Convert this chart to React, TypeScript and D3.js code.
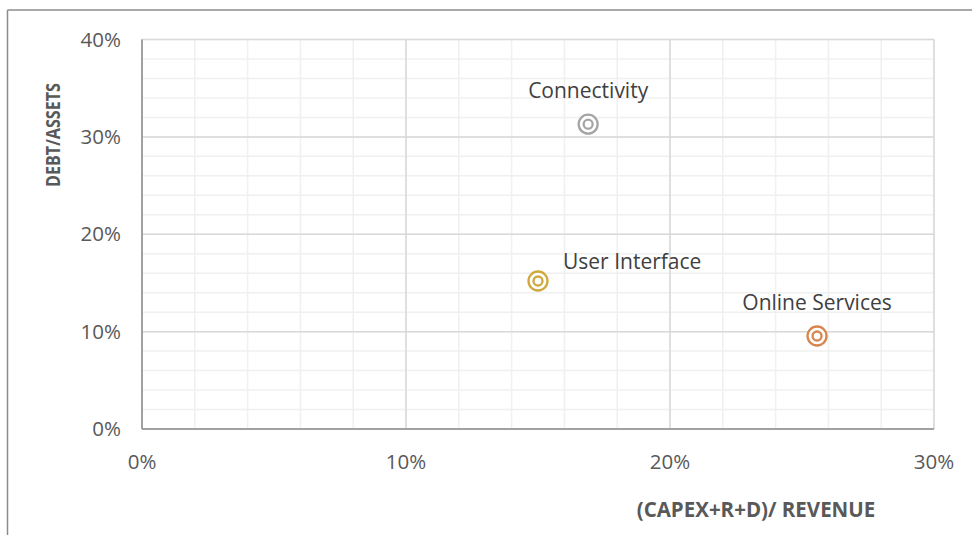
import React from "react";
import * as d3 from "d3";

const names = ["Connectivity", "User Interface", "Online Services"];
const capexRatio = [0.169, 0.150, 0.2557];
const debtRatio = [0.313, 0.152, 0.0955];
const colors = ["#a5a5a5", "#cfa93c", "#d8844c"];
const labelPos = ["top", "right", "top"];

const xMajor = [0, 0.1, 0.2, 0.3];
const yMajor = [0, 0.1, 0.2, 0.3, 0.4];

const W = 972;
const H = 535;
const margin = { top: 39.5, right: 38, bottom: 106, left: 142 };
const FONT = "'Open Sans', sans-serif";

const App: React.FC = () => {
  const x = d3.scaleLinear().domain([0, 0.3]).range([margin.left, W - margin.right]);
  const y = d3.scaleLinear().domain([0, 0.4]).range([H - margin.bottom, margin.top]);
  const fmt = d3.format(".0%");

  const xMinor = d3.range(0, 0.3001, 0.02);
  const yMinor = d3.range(0, 0.4001, 0.02);

  return (
    <div style={{ position: "fixed", left: 0, top: 0 }}>
      <svg width={W} height={H} style={{ display: "block", background: "#fff" }}>
        {/* outer frame */}
        <line x1={7.5} x2={7.5} y1={10} y2={H} stroke="#8c8c8c" strokeWidth={1.5} />
        <line x1={7.5} x2={W} y1={10} y2={10} stroke="#8c8c8c" strokeWidth={1.5} />

        {/* minor grid */}
        {xMinor.map((d, i) => (
          <line key={"xm" + i} x1={x(d)} x2={x(d)} y1={y(0)} y2={y(0.4)} stroke="#f0f0f0" strokeWidth={1.5} />
        ))}
        {yMinor.map((d, i) => (
          <line key={"ym" + i} x1={x(0)} x2={x(0.3)} y1={y(d)} y2={y(d)} stroke="#f0f0f0" strokeWidth={1.5} />
        ))}
        {/* major grid */}
        {xMajor.map((d, i) => (
          <line key={"xM" + i} x1={x(d)} x2={x(d)} y1={y(0)} y2={y(0.4)} stroke="#d9d9d9" strokeWidth={1.5} />
        ))}
        {yMajor.map((d, i) => (
          <line key={"yM" + i} x1={x(0)} x2={x(0.3)} y1={y(d)} y2={y(d)} stroke="#d9d9d9" strokeWidth={1.5} />
        ))}

        {/* axes */}
        <line x1={x(0)} x2={x(0)} y1={y(0)} y2={y(0.4)} stroke="#8c8c8c" strokeWidth={1.5} />
        <line x1={x(0)} x2={x(0.3)} y1={y(0)} y2={y(0)} stroke="#8c8c8c" strokeWidth={1.5} />

        {/* tick labels */}
        {yMajor.map((d, i) => (
          <text key={"yt" + i} x={x(0) - 21} y={y(d)} dy="0.35em" textAnchor="end"
            fontFamily={FONT} fontSize={20.5} fill="#595959">{fmt(d)}</text>
        ))}
        {xMajor.map((d, i) => (
          <text key={"xt" + i} x={x(d)} y={y(0) + 33} dy="0.35em" textAnchor="middle"
            fontFamily={FONT} fontSize={20.5} fill="#595959">{fmt(d)}</text>
        ))}

        {/* axis titles */}
        <text transform={`translate(60,135) rotate(-90)`} textAnchor="middle"
          fontFamily={FONT} fontSize={19} fontWeight="bold" fill="#595959"
          textLength={104} lengthAdjust="spacingAndGlyphs">DEBT/ASSETS</text>
        <text x={756} y={517} textAnchor="middle"
          fontFamily={FONT} fontSize={20.5} fontWeight="bold" fill="#595959">(CAPEX+R+D)/ REVENUE</text>

        {/* points */}
        {names.map((n, i) => {
          const cx = x(capexRatio[i]);
          const cy = y(debtRatio[i]);
          const pos = labelPos[i];
          return (
            <g key={n}>
              <circle cx={cx} cy={cy} r={9.5} fill="#fff" stroke={colors[i]} strokeWidth={2.3} />
              <circle cx={cx} cy={cy} r={4.5} fill="none" stroke={colors[i]} strokeWidth={2.3} />
              <text
                x={pos === "top" ? cx : cx + 25}
                y={pos === "top" ? cy - 26 : cy - 12}
                textAnchor={pos === "top" ? "middle" : "start"}
                fontFamily={FONT} fontSize={21} fill="#404040">{n}</text>
            </g>
          );
        })}
      </svg>
    </div>
  );
};

export default App;
